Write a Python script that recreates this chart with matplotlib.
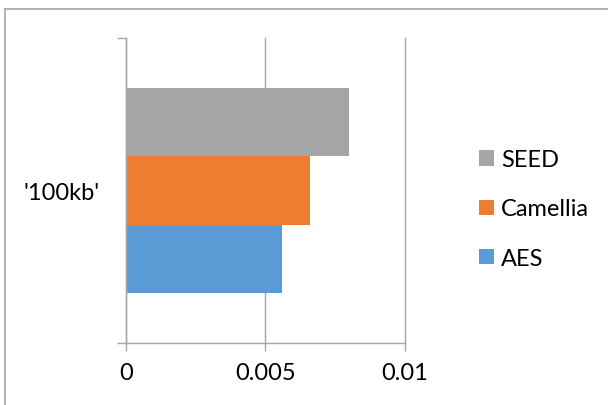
import matplotlib
matplotlib.use("Agg")
import matplotlib.pyplot as plt
from matplotlib.patches import Patch
from matplotlib.lines import Line2D

plt.rcParams['font.family'] = ['Lato', 'DejaVu Sans']

# 加密算法耗时数据
category = "'100kb'"
algorithms = ['AES', 'Camellia', 'SEED']
times = [0.0056, 0.0066, 0.008]
colors = ['#5B9BD5', '#ED7D31', '#A5A5A5']
xticks = [0, 0.005, 0.01]
xtick_labels = ['0', '0.005', '0.01']

W, H = 608, 406
fig = plt.figure(figsize=(W / 100, H / 100), dpi=100)
ax = fig.add_axes([126 / W, 1 - 344 / H, (404.7 - 126) / W, 305 / H])

bar_h = 0.223
offsets = [-bar_h, 0, bar_h]
for name, t, c, off in zip(algorithms, times, colors, offsets):
    ax.barh(off, t, height=bar_h, color=c, zorder=2)

ax.set_xlim(0, 0.01)
ax.set_ylim(-0.5, 0.5)

fs = 17
grid_c = '#a6a6a6'
ax.set_xticks(xticks, xtick_labels)
ax.tick_params(axis='x', direction='out', length=6, width=1, color=grid_c,
               labelsize=fs, pad=8)
ax.set_yticks([0], [category])
ax.tick_params(axis='y', length=0, labelsize=fs, pad=19)
ax.set_yticks([-0.5, 0.5], minor=True)
ax.tick_params(axis='y', which='minor', direction='out', length=6.5, width=1, color=grid_c)

ax.xaxis.grid(True, color=grid_c, linewidth=1, zorder=0)
for gl in ax.get_xgridlines():
    gl.set_clip_on(False)
for s in ['top', 'right']:
    ax.spines[s].set_visible(False)
for s in ['left', 'bottom']:
    ax.spines[s].set_color(grid_c)
    ax.spines[s].set_linewidth(1)

# 图例顺序：SEED 在上
handles = [Patch(facecolor=c) for c in colors[::-1]]
ax.legend(handles, algorithms[::-1], loc='center left',
          bbox_to_anchor=(470 / W, 1 - 210 / H), bbox_transform=fig.transFigure,
          frameon=False, fontsize=fs, handlelength=0.62, handleheight=0.62,
          handletextpad=0.3, labelspacing=1.2, borderaxespad=0)

# 图表外框
fig.add_artist(Line2D([5 / W, 5 / W], [0, 1 - 10 / H], color='#a6a6a6', lw=1.2))
fig.add_artist(Line2D([5 / W, 1], [1 - 10 / H, 1 - 10 / H], color='#a6a6a6', lw=1.2))

fig.savefig('out.png', dpi=100)
